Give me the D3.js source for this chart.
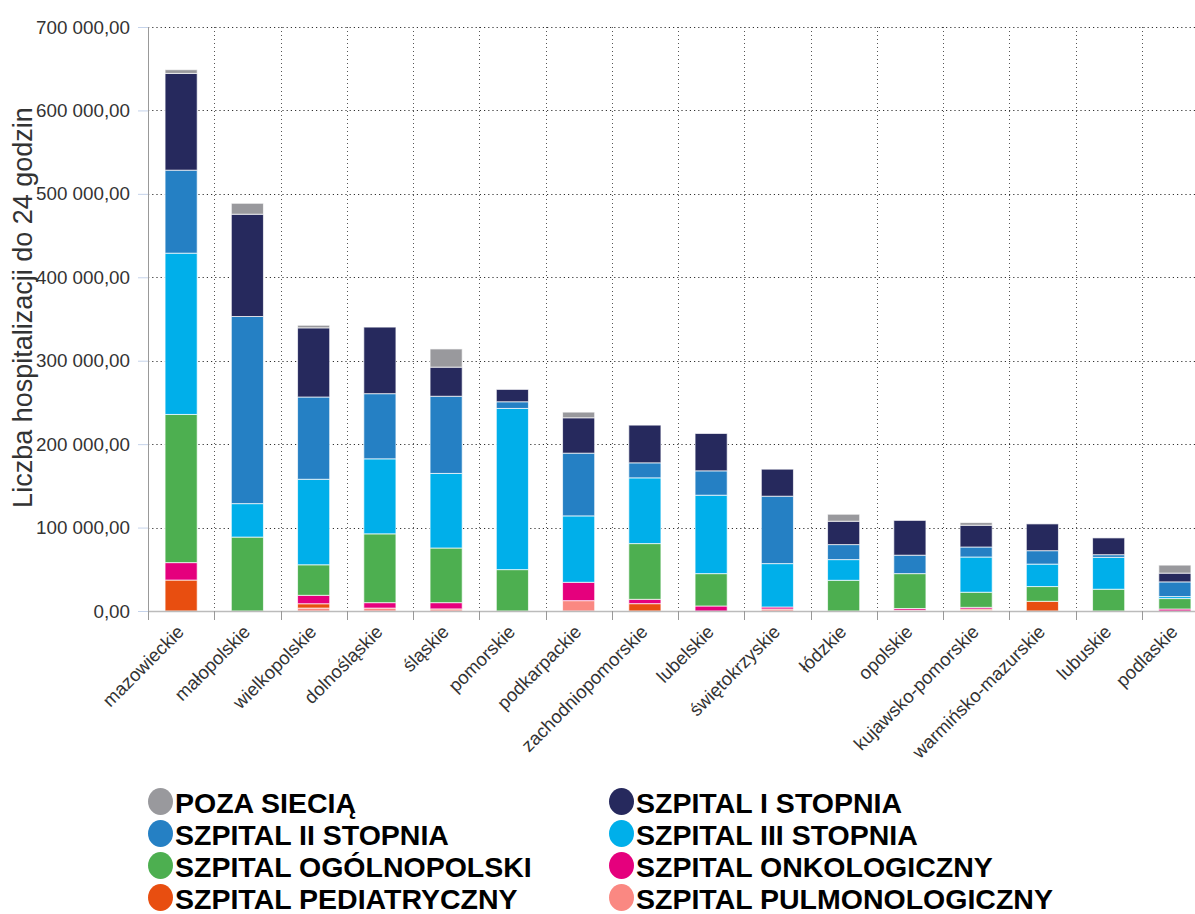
<!DOCTYPE html>
<html><head><meta charset="utf-8">
<script src="https://cdn.jsdelivr.net/npm/d3@7"></script>
<style>
body{margin:0;background:#fff;}
svg{display:block;font-family:"Liberation Sans",Arial,sans-serif;}
</style></head>
<body><svg id="chart" width="1195" height="914"></svg>
<script>
const categories = ["mazowieckie","małopolskie","wielkopolskie","dolnośląskie","śląskie","pomorskie","podkarpackie","zachodniopomorskie","lubelskie","świętokrzyskie","łódzkie","opolskie","kujawsko-pomorskie","warmińsko-mazurskie","lubuskie","podlaskie"];
// values (thousands of hospitalizations)
const pulmonologiczny = [0, 0, 3.5, 3.5, 2.5, 0, 12.4, 0, 0, 2.4, 0, 1, 1, 0, 0, 0];
const pediatryczny    = [37.1, 0, 5.2, 0, 0, 0, 0, 8.8, 0, 0, 0, 0, 1.4, 11.6, 0, 0];
const onkologiczny    = [20.9, 0, 10.1, 6.5, 7.5, 0, 22, 5.2, 6, 2.4, 0, 2, 2, 0, 0, 2.4];
const ogolnopolski    = [177.6, 88.6, 36.6, 82.5, 65.5, 49.6, 0, 66.8, 38.8, 0, 36.8, 41.8, 18.1, 17.7, 26.1, 12.5];
const stopnia3        = [193.3, 40.1, 102.5, 89.9, 89.4, 193.2, 79.6, 78.8, 94, 52, 24.8, 0, 42.2, 26.9, 38.2, 2.4];
const stopnia2        = [99.5, 224.3, 98.6, 78.1, 92.5, 8, 75.2, 18, 29.2, 80.8, 18, 22.1, 12, 16.1, 3.2, 17.6];
const stopnia1        = [116, 122.6, 82.9, 79.8, 34.9, 14.8, 42.4, 45.2, 44.8, 32.4, 28, 41.7, 26.1, 32.1, 20.1, 10.5];
const pozaSiecia      = [4.4, 13.1, 3.1, 0, 21.8, 0, 6.8, 0, 0, 0, 8.4, 0, 3.2, 0, 0, 9.6];
const yTicks = [0, 100000, 200000, 300000, 400000, 500000, 600000, 700000];
const yTickLabels = ["0,00","100 000,00","200 000,00","300 000,00","400 000,00","500 000,00","600 000,00","700 000,00"];

const series = [
  {key:"SZPITAL PULMONOLOGICZNY", values:pulmonologiczny, color:"#FA8882"},
  {key:"SZPITAL PEDIATRYCZNY", values:pediatryczny, color:"#E84E10"},
  {key:"SZPITAL ONKOLOGICZNY", values:onkologiczny, color:"#E5007D"},
  {key:"SZPITAL OGÓLNOPOLSKI", values:ogolnopolski, color:"#4DAF50"},
  {key:"SZPITAL III STOPNIA", values:stopnia3, color:"#00AFEA"},
  {key:"SZPITAL II STOPNIA", values:stopnia2, color:"#2580C4"},
  {key:"SZPITAL I STOPNIA", values:stopnia1, color:"#26295D"},
  {key:"POZA SIECIĄ", values:pozaSiecia, color:"#99999D"}
];
const legendOrder = [
  ["POZA SIECIĄ","SZPITAL I STOPNIA"],
  ["SZPITAL II STOPNIA","SZPITAL III STOPNIA"],
  ["SZPITAL OGÓLNOPOLSKI","SZPITAL ONKOLOGICZNY"],
  ["SZPITAL PEDIATRYCZNY","SZPITAL PULMONOLOGICZNY"]
];

(function(){
const rows = categories.map((c,i)=>{
  const r = {cat:c};
  series.forEach(s=>{ r[s.key] = s.values[i]*1000; });
  return r;
});
const stack = d3.stack().keys(series.map(s=>s.key))(rows);

const svg = d3.select("#chart");
const L = 148, T = 27, B = 611, R = 148 + 16*66.25;
const x = d3.scaleBand().domain(categories).range([L, R]).paddingInner(0.515).paddingOuter(0.2575);
const xb = d3.scaleBand().domain(categories).range([L, R]).padding(0);
const y = d3.scaleLinear().domain([0,700000]).range([B, T]);

// horizontal grid
svg.append("g").selectAll("line").data(yTicks.filter(t=>t>0)).join("line")
  .attr("x1", L).attr("x2", 1195).attr("y1", d=>Math.round(y(d))+0.5).attr("y2", d=>Math.round(y(d))+0.5)
  .attr("stroke","#333").attr("stroke-width",1.2).attr("stroke-dasharray","1.2,3");
// vertical grid
svg.append("g").selectAll("line").data(categories.slice(1)).join("line")
  .attr("x1", d=>Math.round(xb(d))+0.5).attr("x2", d=>Math.round(xb(d))+0.5).attr("y1", T).attr("y2", B)
  .attr("stroke","#555").attr("stroke-width",1).attr("stroke-dasharray","1,3");

// bars
const colorOf = Object.fromEntries(series.map(s=>[s.key,s.color]));
svg.append("g").selectAll("g").data(stack).join("g")
  .attr("fill", d=>colorOf[d.key])
  .selectAll("rect").data(d=>d.filter(p=>p[1]-p[0]>0)).join("rect")
  .attr("x", d=>x(d.data.cat)).attr("width", x.bandwidth())
  .attr("y", d=>y(d[1])).attr("height", d=>y(d[0])-y(d[1]))
  .attr("stroke","rgba(255,255,255,0.7)").attr("stroke-width",1);

// y axis
const yAxis = d3.axisLeft(y).tickValues(yTicks).tickFormat((d,i)=>yTickLabels[i]).tickSize(10).tickPadding(8);
const gy = svg.append("g").attr("transform",`translate(${L},0)`).call(yAxis);
gy.select(".domain").attr("stroke","#999").attr("d",`M0.5,${T}V${B}`);
gy.selectAll(".tick line").attr("stroke","#c5d3ea");
gy.selectAll(".tick text").attr("font-size",18.8).attr("fill","#333").attr("font-family","Liberation Sans, Arial, sans-serif");

// x axis
svg.append("line").attr("x1",L).attr("x2",1195).attr("y1",B+0.5).attr("y2",B+0.5).attr("stroke","#bbb").attr("stroke-width",1.5);
svg.append("g").selectAll("line").data(categories).join("line")
  .attr("x1", d=>Math.round(xb(d))+0.5).attr("x2", d=>Math.round(xb(d))+0.5).attr("y1", B).attr("y2", B+9)
  .attr("stroke","#999").attr("stroke-width",1);
svg.append("g").selectAll("text").data(categories).join("text")
  .attr("transform", d=>`translate(${xb(d)+xb.bandwidth()/2+4},${B+22}) rotate(-45)`)
  .attr("text-anchor","end").attr("font-size",18.5).attr("fill","#333")
  .text(d=>d);

// y title
svg.append("text").attr("transform","translate(32,307.5) rotate(-90)").attr("text-anchor","middle")
  .attr("font-size",27).attr("fill","#333").text("Liczba hospitalizacji do 24 godzin");

// legend
const lg = svg.append("g");
legendOrder.forEach((pair,r)=>{
  pair.forEach((name,c)=>{
    const cx = c===0 ? 160.5 : 621.5;
    const cy = 801.5 + r*32;
    lg.append("ellipse").attr("cx",cx).attr("cy",cy).attr("rx",12.5).attr("ry",13.5).attr("fill",colorOf[name]);
    lg.append("text").attr("x",cx+14.5).attr("y",cy+11.5).attr("font-size",28.5).attr("font-weight","bold")
      .attr("fill","#000").text(name);
  });
});
})();
</script></body></html>
